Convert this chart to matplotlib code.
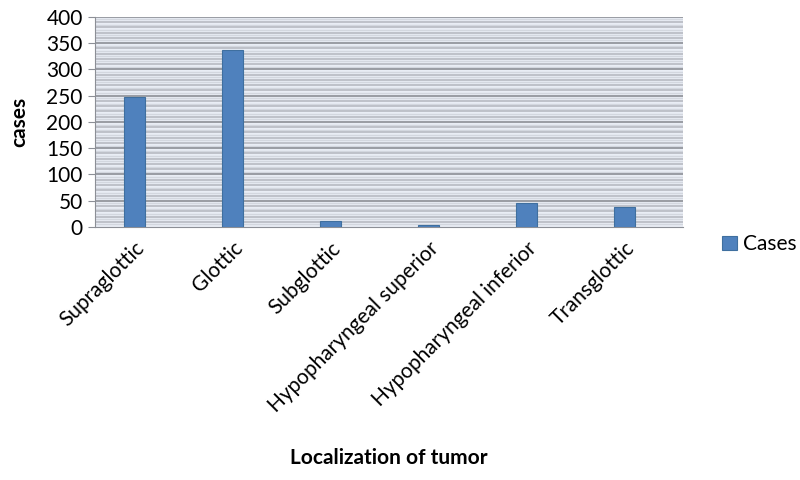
import numpy as np
import matplotlib.pyplot as plt
from matplotlib.ticker import MultipleLocator

plt.rcParams['font.family'] = ['Lato', 'DejaVu Sans']

# data
locations = ["Supraglottic", "Glottic", "Subglottic",
             "Hypopharyngeal superior", "Hypopharyngeal inferior", "Transglottic"]
cases = [247, 336, 11, 3, 45, 38]

fig = plt.figure(figsize=(8, 4.8), dpi=100)
ax = fig.add_axes([0.119, 0.527, 0.735, 0.438])

x = np.arange(len(locations))
ax.set_facecolor("#e9edf5")
ax.yaxis.set_major_locator(MultipleLocator(50))
ax.yaxis.set_minor_locator(MultipleLocator(5))

# striped background: light lines every 5, grey every 10, darker every 50
for v in np.arange(5, 400, 10):
    ax.axhline(v, color="#d3d7df", lw=1.0, zorder=0)
for v in np.arange(10, 400, 10):
    if v % 50:
        ax.axhline(v, color="#b7bac2", lw=1.2, zorder=0)
for v in np.arange(50, 401, 50):
    ax.axhline(v, color="#8c8f96", lw=1.2, zorder=0)

ax.bar(x, cases, width=0.21, color="#4f81bd", edgecolor="#3f6f9f",
       linewidth=0.8, label="Cases", zorder=3)

ax.set_xlim(-0.4, len(locations) - 0.4)
ax.set_ylim(0, 400)
ax.set_xticks(x)
ax.set_xticklabels(locations, rotation=45, ha="right", rotation_mode="anchor",
                   fontsize=15)
ax.tick_params(axis="x", length=0, pad=8)
ax.tick_params(axis="y", which="major", length=5, color="#8c8f96",
               labelsize=15, pad=4)
ax.tick_params(axis="y", which="minor", length=0)

for s in ["top", "right"]:
    ax.spines[s].set_visible(False)
ax.spines["left"].set_color("#8c8f96")
ax.spines["bottom"].set_color("#8c8f96")

ax.set_ylabel("cases", fontsize=15, fontweight="bold", labelpad=12)
fig.text(0.486, 0.046, "Localization of tumor", ha="center", va="center",
         fontsize=15, fontweight="bold")

fig.legend(loc="center left", bbox_to_anchor=(0.9025, 0.491), frameon=False,
           fontsize=15, handlelength=0.7, handleheight=0.7,
           handletextpad=0.3, borderpad=0, borderaxespad=0)

fig.savefig("out.png", dpi=100)
